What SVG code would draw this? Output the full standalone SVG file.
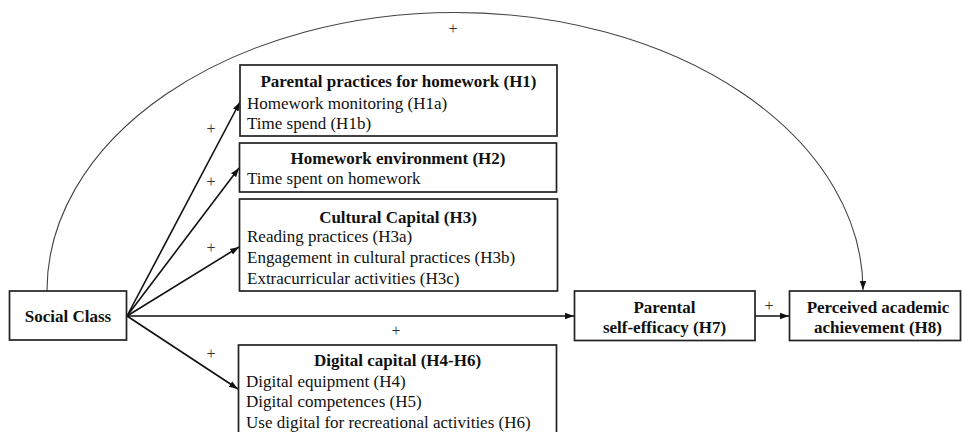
<svg xmlns="http://www.w3.org/2000/svg" width="962" height="432" viewBox="0 0 962 432">
<style>
.box{fill:#fff;stroke:#222;stroke-width:1.7}
.t{font-family:"Liberation Serif","Times New Roman",serif;font-size:17px;fill:#111}
.b{font-weight:bold;text-anchor:middle}
.plus{font-family:"Liberation Serif","Times New Roman",serif;font-size:16px;fill:#333;text-anchor:middle}
.arr{fill:none;stroke:#111;stroke-width:1.6}
.arc{fill:none;stroke:#444;stroke-width:1.1}
</style>
<defs>
<marker id="ah" markerUnits="userSpaceOnUse" markerWidth="10" markerHeight="8" refX="9" refY="4" orient="auto">
<path d="M0,0.8 L9,4 L0,7.2 Z" fill="#111"/>
</marker>
</defs>
<rect width="962" height="432" fill="#fff"/>
<g id="connectors">
<path class="arc" d="M47,291 A408,278 0 0 1 863,290" marker-end="url(#ah)"/>
<line class="arr" x1="127" y1="316" x2="240" y2="102" marker-end="url(#ah)"/>
<line class="arr" x1="127" y1="316" x2="239" y2="168" marker-end="url(#ah)"/>
<line class="arr" x1="127" y1="316" x2="239" y2="247" marker-end="url(#ah)"/>
<line class="arr" x1="127" y1="316" x2="238" y2="389" marker-end="url(#ah)"/>
<line class="arr" x1="127" y1="316" x2="574" y2="316" marker-end="url(#ah)"/>
<line class="arr" x1="755" y1="316" x2="789" y2="316" marker-end="url(#ah)"/>
<text class="plus" x="453" y="33.5">+</text>
<text class="plus" x="211" y="133.5">+</text>
<text class="plus" x="211" y="187">+</text>
<text class="plus" x="211" y="252.5">+</text>
<text class="plus" x="211" y="358.5">+</text>
<text class="plus" x="396" y="336">+</text>
<text class="plus" x="769" y="311">+</text>
</g>
<g id="social-class">
<rect class="box" x="9.5" y="291" width="117" height="49"/>
<text class="t b" x="68" y="321.5">Social Class</text>
</g>
<g id="h1">
<rect class="box" x="240" y="65" width="317" height="71"/>
<text class="t b" x="398.5" y="86.5">Parental practices for homework (H1)</text>
<text class="t" x="247" y="108.5">Homework monitoring (H1a)</text>
<text class="t" x="247" y="128.5">Time spend (H1b)</text>
</g>
<g id="h2">
<rect class="box" x="239.5" y="143" width="317" height="49"/>
<text class="t b" x="398" y="164">Homework environment (H2)</text>
<text class="t" x="247" y="184">Time spent on homework</text>
</g>
<g id="h3">
<rect class="box" x="239.5" y="199" width="318" height="92"/>
<text class="t b" x="398" y="222.5">Cultural Capital (H3)</text>
<text class="t" x="247" y="242">Reading practices (H3a)</text>
<text class="t" x="247" y="263">Engagement in cultural practices (H3b)</text>
<text class="t" x="247" y="284">Extracurricular activities (H3c)</text>
</g>
<g id="h4-h6">
<rect class="box" x="238.5" y="345" width="318" height="95"/>
<text class="t b" x="397.5" y="366">Digital capital (H4-H6)</text>
<text class="t" x="246" y="386.5">Digital equipment (H4)</text>
<text class="t" x="246" y="407">Digital competences (H5)</text>
<text class="t" x="246" y="428">Use digital for recreational activities (H6)</text>
</g>
<g id="h7">
<rect class="box" x="574.5" y="291" width="180.5" height="49.5"/>
<text class="t b" x="664.5" y="313">Parental</text>
<text class="t b" x="664.5" y="333">self-efficacy (H7)</text>
</g>
<g id="h8">
<rect class="box" x="789.5" y="291" width="171" height="49.5"/>
<text class="t b" x="878" y="313">Perceived academic</text>
<text class="t b" x="878" y="333">achievement (H8)</text>
</g>
</svg>
